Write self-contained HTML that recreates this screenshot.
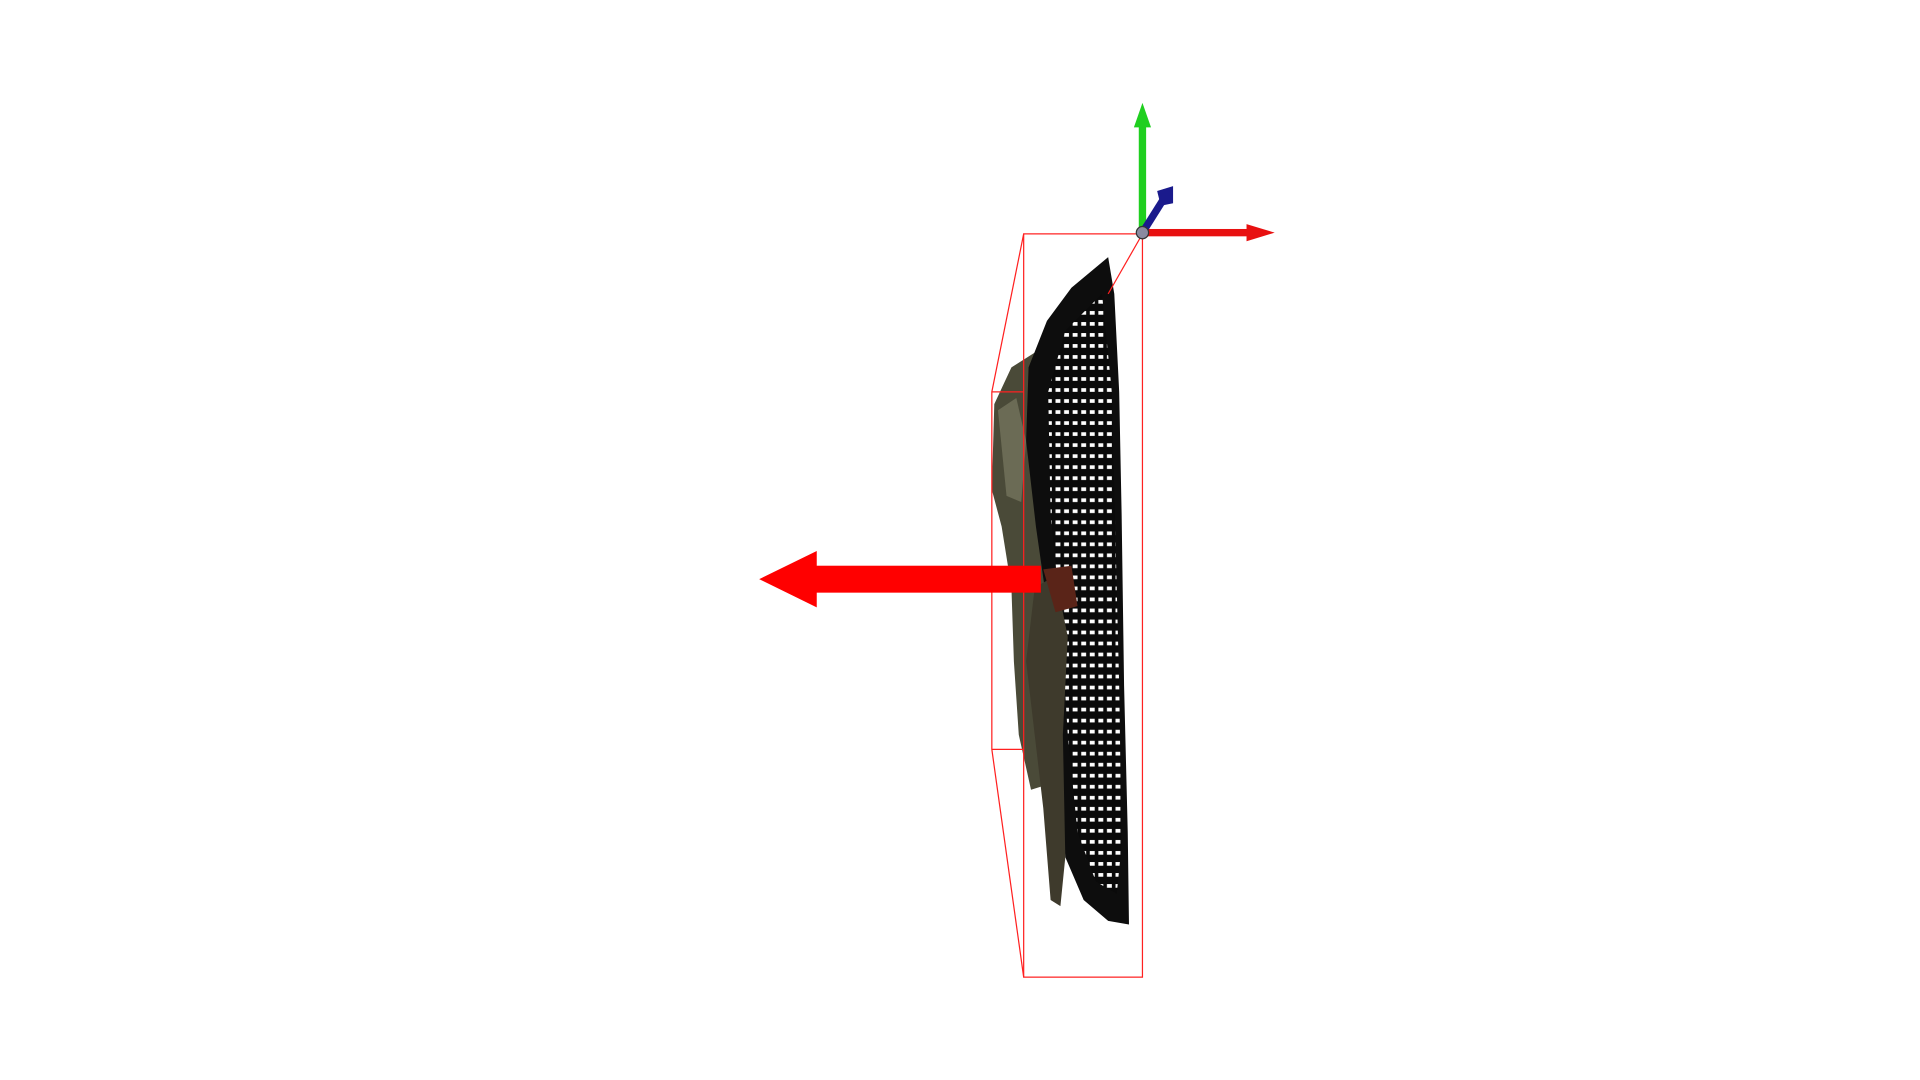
<!DOCTYPE html>
<html><head><meta charset="utf-8"><title>Point cloud view</title>
<style>
html,body{margin:0;padding:0;background:#fff;width:1920px;height:1080px;overflow:hidden;}
svg{display:block;}
</style></head>
<body>
<svg width="1920" height="1080" viewBox="0 0 1568 882" preserveAspectRatio="none" xmlns="http://www.w3.org/2000/svg">
<defs>
<pattern id="dots" width="7" height="9" patternUnits="userSpaceOnUse">
<rect width="7" height="9" fill="#0a0a0a"/>
<rect x="1" y="2" width="4" height="3" fill="#ffffff"/>
</pattern>
</defs>
<rect width="1568" height="882" fill="#fff"/>

<g>
<polygon fill="#4a4a38" points="812,330 826,300 845,288 858,300 858,640 842,645 832,600 828,540 826,480 818,430 810,400"/>
<polygon fill="#6b6b55" points="815,335 830,325 838,360 834,410 822,405"/>
<polygon fill="#0d0d0d" points="905,210 910,240 914,320 916,420 918,560 921,680 922,755 905,752 885,735 870,700 862,600 856,500 846,430 838,360 840,300 855,262 875,235"/>
<polygon fill="url(#dots)" points="900,240 908,320 911,440 914,560 916,690 912,730 895,720 880,680 872,600 866,500 858,420 856,320 870,270"/>
<polygon fill="#3e3a2c" points="845,480 862,470 872,520 868,600 870,700 866,740 858,735 852,660 845,600 838,540"/>
<polygon fill="#5a2418" points="852,465 875,462 880,495 862,500"/>
</g>

<g fill="none" stroke="#ff2020" stroke-width="1">
<rect x="836" y="191" width="97" height="607"/>
<polyline points="836,191 810,320 810,612 836,798"/>
<line x1="810" y1="320" x2="836" y2="320"/>
<line x1="810" y1="612" x2="836" y2="612"/>
<line x1="933" y1="191" x2="905" y2="240"/>
</g>

<g fill="#ff0000">
<rect x="664" y="462" width="186" height="22"/>
<polygon points="620,473 667,450 667,496"/>
</g>

<g>
<g>
<rect x="930" y="100" width="6" height="90" fill="#1fcf1f"/>
<polygon points="933,84 926,104 940,104" fill="#1fcf1f"/>
</g>
<g>
<rect x="933" y="187" width="88" height="6" fill="#e81010"/>
<polygon points="1041,190 1018,183 1018,197" fill="#e81010"/>
</g>
<g>
<line x1="933" y1="190" x2="950" y2="163" stroke="#1a1a8c" stroke-width="6"/>
<polygon points="945,156 958,152 958,166 948,168" fill="#1a1a8c"/>
</g>
<circle cx="933" cy="190" r="5" fill="#8a8aa0" stroke="#333" stroke-width="1"/>
</g>
</svg>
</body></html>
